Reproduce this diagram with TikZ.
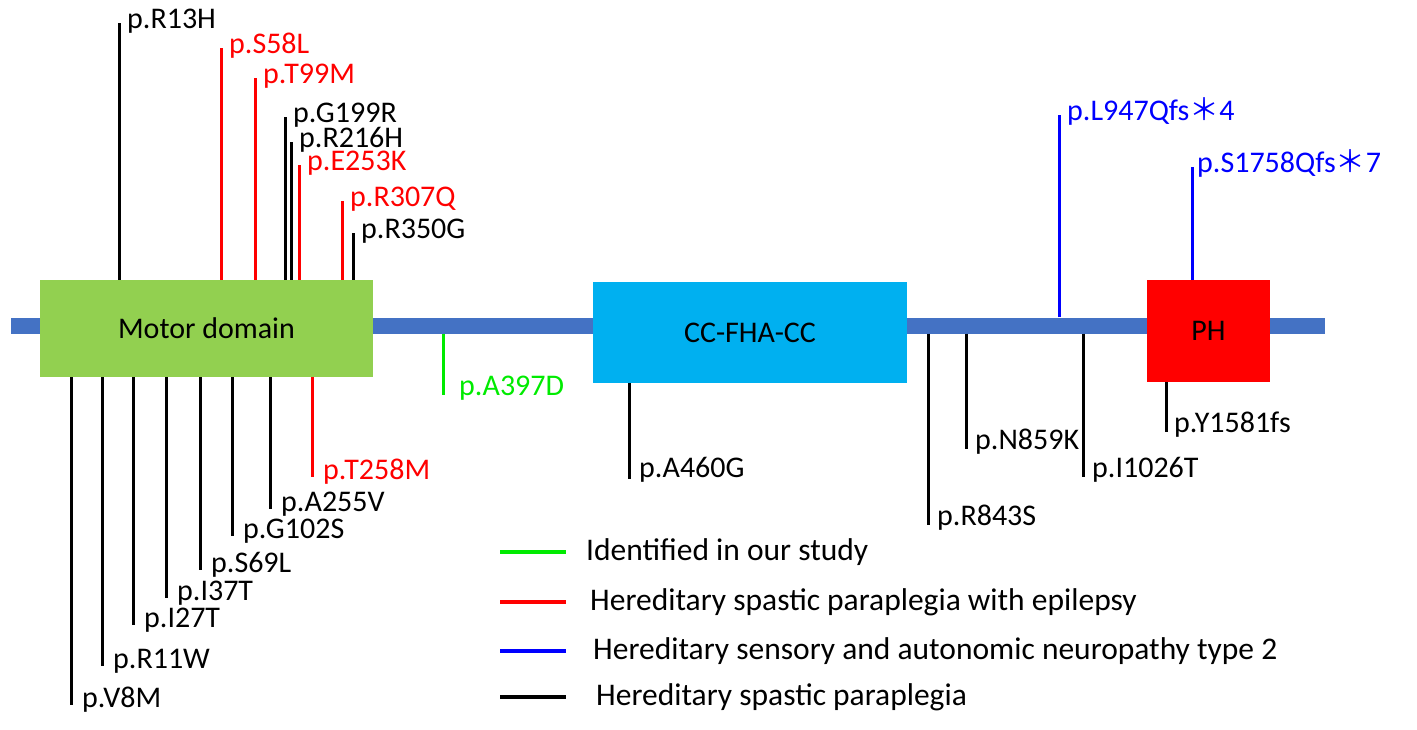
\documentclass[tikz,border=0pt]{standalone}
\usepackage{fontspec}
\setmainfont{Carlito}
\newfontfamily\cjk{Noto Sans CJK SC}
\usetikzlibrary{positioning}
\definecolor{barblue}{HTML}{4472C4}
\definecolor{motorgreen}{HTML}{92D050}
\definecolor{ccblue}{HTML}{00B0F0}
\definecolor{mutred}{HTML}{FF0000}
\definecolor{mutgreen}{RGB}{0,235,0}
\definecolor{mutblue}{HTML}{0000FF}
\tikzset{
  mut/.style={line width=3pt},
  lab/.style={anchor=base west,inner sep=0pt},
  domain/.style={fill=#1,inner sep=0pt},
  legline/.style={line width=4pt},
  legtext/.style={inner sep=0pt,font=\fontsize{31.5}{38}\selectfont}
}

\begin{document}
\begin{tikzpicture}[x=1pt,y=-1pt,font=\fontsize{30}{36}\selectfont]

\useasboundingbox (0,0) rectangle (1417,730);

% backbone:
\node[domain=barblue,minimum width=1314pt,minimum height=16pt] (bar) at (668,325.5) {};
% domains:
\node[domain=motorgreen,minimum width=333pt,minimum height=97pt] (motor) at (206.5,328.5) {Motor domain};
\node[domain=ccblue,minimum width=314pt,minimum height=101pt] (cc) at (750,332.5) {CC-FHA-CC};
\node[domain=mutred,minimum width=123pt,minimum height=102pt] (ph) at (1208.5,331) {PH};

% mutations above the motor domain:
\foreach \xx/\yy/\nm/\col/\txt in {119/23/R13H/black/p.R13H, 221/48/S58L/mutred/p.S58L,
    255/78/T99M/mutred/p.T99M, 285/117/G199R/black/p.G199R, 291/142/R216H/black/p.R216H,
    299/165/E253K/mutred/p.E253K, 342/201/R307Q/mutred/p.R307Q, 353/233/R350G/black/p.R350G}{
  \coordinate (t\nm) at (\xx,\yy);
  \draw[mut,\col] (motor.north -| t\nm) -- (t\nm);
  \node[lab,text=\col] (l\nm) at ([shift={(8,6)}]t\nm) {\txt};
}

% mutations below the motor domain:
\foreach \xx/\yy/\nm/\col/\txt in {71/705/V8M/black/p.V8M, 102/666/R11W/black/p.R11W,
    133/625/I27T/black/p.I27T, 166/598/I37T/black/p.I37T, 200/570/S69L/black/p.S69L,
    232/536/G102S/black/p.G102S, 270/509/A255V/black/p.A255V, 312/477/T258M/mutred/p.T258M}{
  \coordinate (b\nm) at (\xx,\yy);
  \draw[mut,\col] (motor.south -| b\nm) -- (b\nm);
  \node[lab,text=\col] (l\nm) at ([shift={(11,2)}]b\nm) {\txt};
}

% mutations along the rest of the protein:
\coordinate (bA397D) at (443,395);
\draw[mut,mutgreen] (bar.south -| bA397D) -- (bA397D);
\node[lab,text=mutgreen] (lA397D) at ([shift={(16,0)}]bA397D) {p.A397D};
\coordinate (bA460G) at (629,479);
\draw[mut] (cc.south -| bA460G) -- (bA460G);
\node[lab] (lA460G) at ([shift={(10,-2)}]bA460G) {p.A460G};
\foreach \xx/\yy/\nm/\txt in {928/525/R843S/p.R843S, 966/449/N859K/p.N859K, 1083/477/I1026T/p.I1026T}{
  \coordinate (b\nm) at (\xx,\yy);
  \draw[mut] (bar.south -| b\nm) -- (b\nm);
  \node[lab] (l\nm) at ([shift={(9,0)}]b\nm) {\txt};
}
\coordinate (bY1581fs) at (1166,432);
\draw[mut] (ph.south -| bY1581fs) -- (bY1581fs);
\node[lab] (lY1581fs) at ([shift={(8,0)}]bY1581fs) {p.Y1581fs};
\coordinate (tL947) at (1059,115);
\draw[mut,mutblue] (bar.north -| tL947) -- (tL947);
\node[lab,text=mutblue] (lL947) at ([shift={(8,6)}]tL947) {p.L947Qfs{\cjk ＊}4};
\coordinate (tS1758) at (1192,167);
\draw[mut,mutblue] (ph.north -| tS1758) -- (tS1758);
\node[lab,text=mutblue] (lS1758) at ([shift={(5,6)}]tS1758) {p.S1758Qfs{\cjk ＊}7};

% legend:
\foreach \yy/\nm/\col/\dd/\txt in {552/green/mutgreen/20/Identified in our study,
    602/red/mutred/24/Hereditary spastic paraplegia with epilepsy,
    651/blue/mutblue/27/Hereditary sensory and autonomic neuropathy type 2,
    697/black/black/30/Hereditary spastic paraplegia}{
  \coordinate (s\nm) at (500,\yy);
  \coordinate (e\nm) at (566,\yy);
  \draw[legline,\col] (s\nm) -- (e\nm);
  \node[legtext,right=\dd pt of e\nm] (leg\nm) {\txt};
}

\end{tikzpicture}
\end{document}
